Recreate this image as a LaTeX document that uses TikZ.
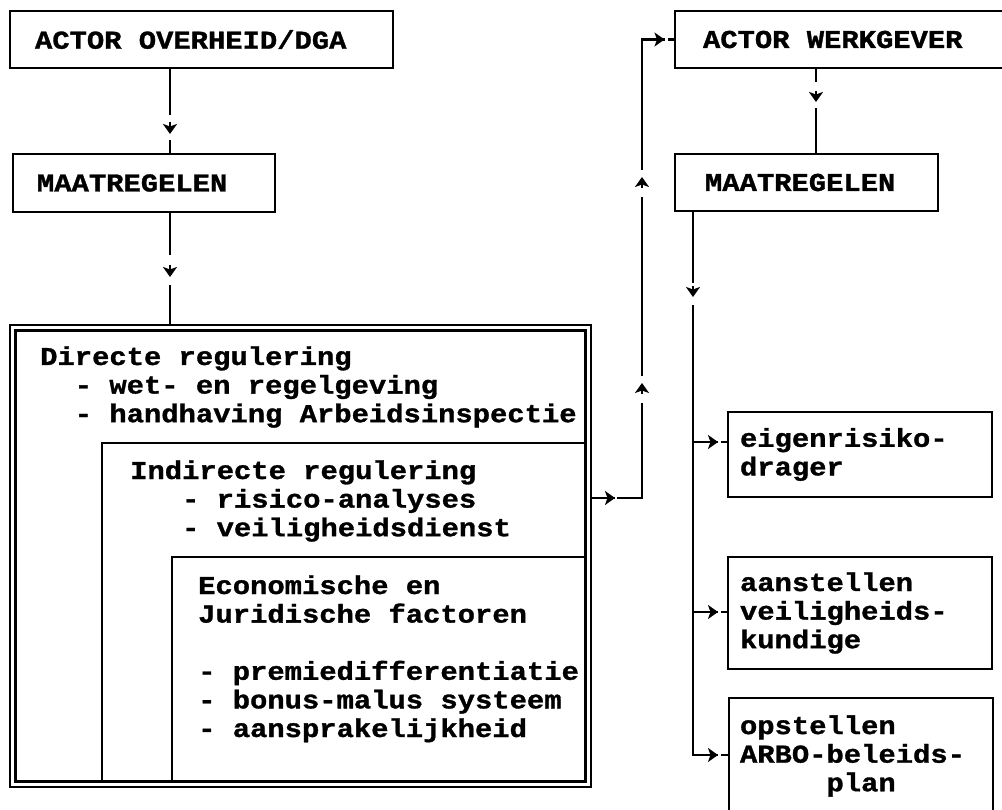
\documentclass[tikz,border=0pt]{standalone}
\usepackage{fontspec}
\newfontfamily\tw[FakeStretch=1.12, BoldFeatures={FakeBold=1.2}]{Liberation Mono}
\newcommand\twfont{\tw\bfseries\fontsize{25.75}{28.6}\selectfont}
% one fixed typewriter space
\newcommand\wsp{\hspace*{17.3pt}}
\usetikzlibrary{arrows.meta,decorations.markings,calc}
\tikzset{
  lbl/.style={font=\twfont},
  tbox/.style={draw, line width=2.4pt, anchor=north west, outer sep=0pt,
    inner ysep=0pt, align=left, lbl},
  frame/.style={draw, anchor=north west, outer sep=0pt, inner sep=0pt},
  conn/.style={line width=2.4pt},
  headline/.style={line width=2.6pt, -{Stealth[length=10pt,width=14pt,inset=2.5pt]}},
  % arrow head sitting in a short gap of a connector:
  % #1 position of the tip, #2 gap before the tip, #3 gap after it, #4 stem length
  gapar/.style n args={4}{postaction={decorate, decoration={markings,
    mark=at position #1 with {\fill[white] (-#2,-8pt) rectangle (#3,8pt);
      \draw[headline] (-#4,0) -- (0,0);}}}},
}
\begin{document}
\begin{tikzpicture}[x=1pt, y=-1pt]
\useasboundingbox (0,0) rectangle (1002,810);

% government side
\node[tbox, minimum height=57pt, text width=333pt, inner xsep=25pt] (ov) at (10,11) {ACTOR\wsp OVERHEID/DGA};
\node[tbox, minimum height=58pt, text width=214pt, inner xsep=24pt] (ml) at (13,154) {MAATREGELEN};

% nested regulation frame
\node[frame, line width=2.2pt, minimum width=581pt, minimum height=462pt] (reg) at (10,325) {};
\node[frame, line width=2.2pt, minimum width=570pt, minimum height=451pt] (regin) at (15.5,330.5) {};
\node[frame, line width=2.4pt, minimum width=483.5pt, minimum height=338.5pt] (ind) at (102,443) {};
\node[frame, line width=2.4pt, minimum width=413.5pt, minimum height=224.5pt] (eco) at (172,557) {};

\node[lbl, anchor=base west, inner sep=0pt, text width=560pt, align=left] (dtxt) at (40,365)
  {Directe\wsp regulering\\
   \wsp\wsp -\wsp wet-\wsp en\wsp regelgeving\\
   \wsp\wsp -\wsp handhaving\wsp Arbeidsinspectie};
\node[lbl, anchor=base west, inner sep=0pt, text width=440pt, align=left] (itxt) at (130,479)
  {Indirecte\wsp regulering\\
   \wsp\wsp\wsp -\wsp risico-analyses\\
   \wsp\wsp\wsp -\wsp veiligheidsdienst};
\node[lbl, anchor=base west, inner sep=0pt, text width=395pt, align=left] (etxt) at (198,594)
  {Economische\wsp en\\
   Juridische\wsp factoren\\[28.6pt]
   -\wsp premiedifferentiatie\\
   -\wsp bonus-malus\wsp systeem\\
   -\wsp aansprakelijkheid};

% employer side
\node[tbox, minimum height=57pt, text width=284pt, inner xsep=28pt] (wg) at (675,11) {ACTOR\wsp WERKGEVER};
\node[tbox, minimum height=57pt, text width=203pt, inner xsep=30pt] (mr) at (675,154) {MAATREGELEN};
\node[tbox, minimum height=85pt, text width=240pt, inner xsep=12pt] (eig) at (728,412) {eigenrisiko-\\drager};
\node[tbox, minimum height=112pt, text width=240pt, inner xsep=12pt] (aan) at (728,557) {aanstellen\\veiligheids-\\kundige};
\node[tbox, minimum height=116pt, text width=242pt, inner xsep=11pt] (ops) at (729,698)
  {opstellen\\ARBO-beleids-\\\wsp\wsp\wsp\wsp\wsp plan};

% connectors
\coordinate (c1) at (170,0);
\draw[conn, gapar={66pt}{19pt}{6pt}{12pt}] (ov.south -| c1) -- (ml.north -| c1);
\draw[conn, gapar={65pt}{22pt}{8pt}{12pt}] (ml.south -| c1) -- (reg.north -| c1);

\coordinate (turn) at (642,498);
\draw[conn, gapar={24pt}{0pt}{2pt}{9pt}, gapar={166pt}{20pt}{7pt}{11pt},
  gapar={372pt}{20pt}{7pt}{11pt}, gapar={532pt}{0pt}{3pt}{9pt}]
  (reg.east |- turn) -- (turn) |- (wg.west);

\coordinate (c4) at (816,0);
\draw[conn, gapar={34pt}{20pt}{6pt}{11pt}] (wg.south -| c4) -- (mr.north -| c4);

\coordinate (b1) at (693,442);
\coordinate (b2) at (693,612);
\coordinate (b3) at (693,755);
\draw[conn, gapar={86pt}{14pt}{8pt}{11pt}, gapar={569pt}{0pt}{3pt}{9pt}]
  (mr.south -| b3) -- (b3) -- (ops.west |- b3);
\draw[conn, gapar={25pt}{0pt}{3pt}{9pt}] (b1) -- (eig.west |- b1);
\draw[conn, gapar={25pt}{0pt}{3pt}{9pt}] (b2) -- (aan.west |- b2);
\end{tikzpicture}
\end{document}
